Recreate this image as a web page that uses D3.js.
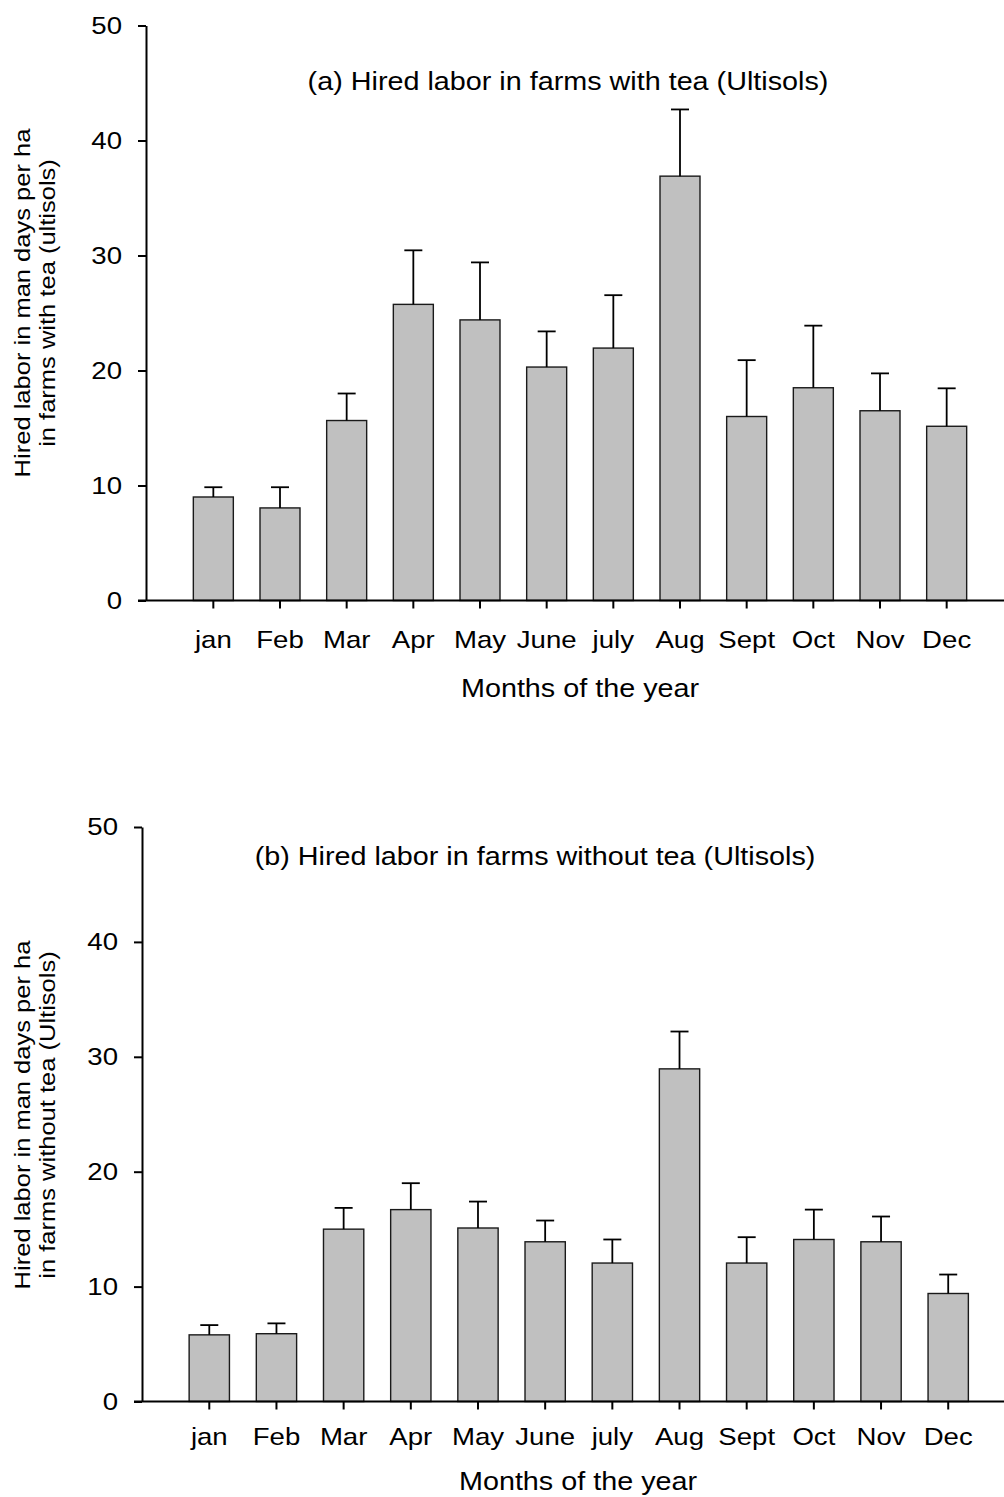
<!DOCTYPE html>
<html>
<head>
<meta charset="utf-8">
<script src="https://cdn.jsdelivr.net/npm/d3@7/dist/d3.min.js"></script>
<style>
  html, body { margin: 0; padding: 0; background: #fff; }
  svg { display: block; }
  text { font-family: "Liberation Sans", Arial, Helvetica, sans-serif; fill: #000; }
</style>
</head>
<body>
<svg id="chart" width="1004" height="1497"></svg>
<script>
// Months on the category axis
const months = ["jan", "Feb", "Mar", "Apr", "May", "June", "july", "Aug", "Sept", "Oct", "Nov", "Dec"];

// Panel (a): farms with tea — mean hired labor (man days/ha) and standard error
const withTeaMean = [9.0, 8.05, 15.65, 25.75, 24.4, 20.3, 21.95, 36.9, 16.0, 18.5, 16.5, 15.15];
const withTeaErr  = [0.85, 1.8, 2.35, 4.7, 5.0, 3.1, 4.6, 5.8, 4.9, 5.4, 3.25, 3.3];

// Panel (b): farms without tea
const withoutTeaMean = [5.8, 5.9, 15.0, 16.7, 15.1, 13.9, 12.05, 28.95, 12.05, 14.1, 13.9, 9.4];
const withoutTeaErr  = [0.85, 0.9, 1.85, 2.3, 2.3, 1.85, 2.05, 3.25, 2.25, 2.6, 2.2, 1.65];

// Axis tick values
const yTicks = [0, 10, 20, 30, 40, 50];

const svg = d3.select("#chart");
const SX = 1.15; // glyph stretch along the reading direction of the figure's wide typeface

function stretchText(sel) {
  sel.each(function () {
    const t = d3.select(this);
    const x = +t.attr("x") || 0;
    const y = +t.attr("y") || 0;
    t.attr("x", 0).attr("y", 0)
     .attr("transform", `translate(${x},${y}) scale(${SX},1)`);
  });
}

function drawPanel(cfg) {
  const g = svg.append("g");

  const x = d3.scaleBand()
    .domain(months)
    .range(cfg.xRange)
    .paddingInner(0.4)
    .paddingOuter(0.2);

  const y = d3.scaleLinear().domain([0, 50]).range(cfg.yRange);

  const rows = months.map((m, i) => ({ m, v: cfg.mean[i], e: cfg.err[i] }));

  // bars
  g.selectAll("rect.bar").data(rows).join("rect")
    .attr("class", "bar")
    .attr("x", d => x(d.m))
    .attr("width", x.bandwidth())
    .attr("y", d => y(d.v))
    .attr("height", d => y(0) - y(d.v))
    .attr("fill", "#c0c0c0")
    .attr("stroke", "#1a1a1a")
    .attr("stroke-width", 1.4);

  // upper error bars
  const capHalf = 9;
  const eb = g.selectAll("g.err").data(rows).join("g").attr("class", "err")
    .attr("stroke", "#000").attr("stroke-width", 1.8);
  eb.append("line")
    .attr("x1", d => x(d.m) + x.bandwidth() / 2)
    .attr("x2", d => x(d.m) + x.bandwidth() / 2)
    .attr("y1", d => y(d.v))
    .attr("y2", d => y(d.v + d.e));
  eb.append("line")
    .attr("x1", d => x(d.m) + x.bandwidth() / 2 - capHalf)
    .attr("x2", d => x(d.m) + x.bandwidth() / 2 + capHalf)
    .attr("y1", d => y(d.v + d.e))
    .attr("y2", d => y(d.v + d.e));

  // y axis
  const ya = g.append("g")
    .attr("transform", `translate(${cfg.axisX},0)`)
    .call(d3.axisLeft(y).tickValues(yTicks).tickSize(8).tickPadding(16).tickSizeOuter(0));
  ya.select(".domain").attr("stroke", "#000").attr("stroke-width", 2);
  ya.selectAll(".tick line").attr("stroke", "#000").attr("stroke-width", 2);
  ya.selectAll(".tick text").attr("font-size", 24).attr("font-family", null);
  stretchText(ya.selectAll(".tick text"));

  // x axis: baseline across the full width, ticks at band centres
  g.append("line")
    .attr("x1", cfg.axisX - 8).attr("x2", 1004)
    .attr("y1", y(0)).attr("y2", y(0))
    .attr("stroke", "#000").attr("stroke-width", 2);
  const xa = g.append("g")
    .attr("transform", `translate(0,${y(0)})`)
    .call(d3.axisBottom(x).tickSize(8).tickPadding(cfg.xPad));
  xa.select(".domain").remove();
  xa.selectAll(".tick line").attr("stroke", "#000").attr("stroke-width", 2);
  xa.selectAll(".tick text").attr("font-size", 24).attr("font-family", null);
  stretchText(xa.selectAll(".tick text"));

  // panel title
  g.append("text")
    .attr("transform", `translate(${cfg.titleX},${cfg.titleY}) scale(${SX},1)`)
    .attr("text-anchor", "middle")
    .attr("font-size", 25)
    .text(cfg.title);

  // x axis title
  g.append("text")
    .attr("transform", `translate(${cfg.xTitleX},${cfg.xTitleY}) scale(${SX},1)`)
    .attr("text-anchor", "middle")
    .attr("font-size", 25)
    .text("Months of the year");

  // y axis title, two lines reading bottom to top
  cfg.yTitle.forEach((line, i) => {
    g.append("text")
      .attr("transform", `translate(${30 + i * 25},${cfg.yTitleY}) rotate(-90) scale(1.16,1)`)
      .attr("text-anchor", "middle")
      .attr("font-size", 22)
      .text(line);
  });
}

drawPanel({
  mean: withTeaMean, err: withTeaErr,
  xRange: [180, 980], yRange: [600.5, 25.5], axisX: 146, xPad: 22,
  title: "(a) Hired labor in farms with tea (Ultisols)", titleX: 568, titleY: 90,
  xTitleX: 580, xTitleY: 697,
  yTitle: ["Hired labor in man days per ha", "in farms with tea (ultisols)"], yTitleY: 303
});

drawPanel({
  mean: withoutTeaMean, err: withoutTeaErr,
  xRange: [175.7, 981.8], yRange: [1401.5, 827], axisX: 142, xPad: 18.5,
  title: "(b) Hired labor in farms without tea (Ultisols)", titleX: 535, titleY: 865,
  xTitleX: 578, xTitleY: 1490,
  yTitle: ["Hired labor in man days per ha", "in farms without tea (Ultisols)"], yTitleY: 1115
});
</script>
</body>
</html>
